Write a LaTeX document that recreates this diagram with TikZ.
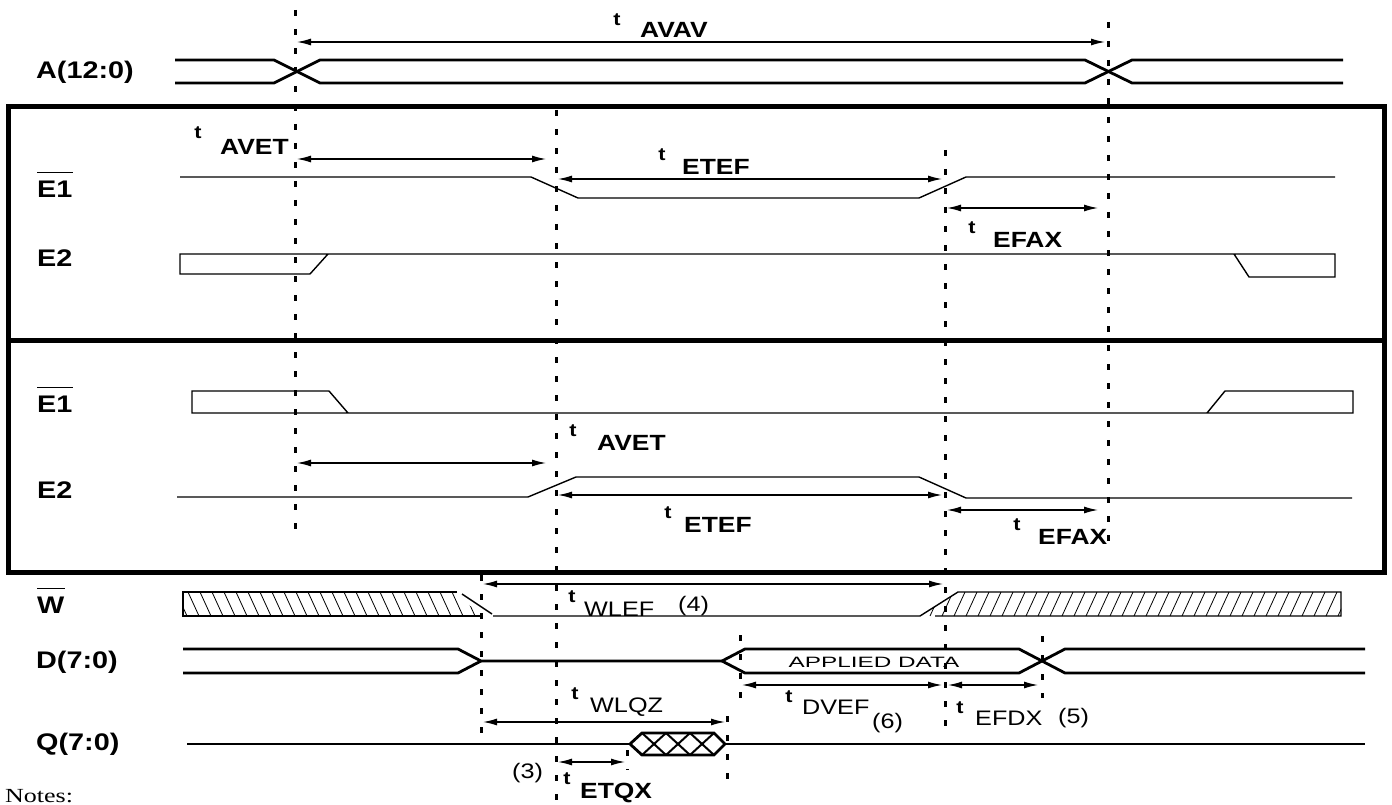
\documentclass[tikz,border=0pt]{standalone}
\usepackage{fontspec}
\usepackage{graphicx}
\usetikzlibrary{arrows.meta}
\newfontfamily\lab[FakeStretch=1.2]{Liberation Sans}
\newfontfamily\notefont{Liberation Serif}
\begin{document}
\begin{tikzpicture}[x=1pt,y=-1pt,
  sig/.style={line width=1.4pt, line join=miter},
  bus/.style={line width=2.8pt, line join=miter},
  tline/.style={line width=3pt, dash pattern=on 6pt off 13pt},
  dim/.style={line width=1.3pt, {Latex[length=14pt,width=7pt]}-{Latex[length=14pt,width=7pt]}},
  lbl/.style={font=\lab\bfseries\fontsize{24}{24}\selectfont, inner sep=0pt, anchor=west},
  sub/.style={font=\lab\bfseries\fontsize{22}{22}\selectfont, inner sep=0pt, anchor=west},
  subr/.style={font=\lab\fontsize{21}{21}\selectfont, inner sep=0pt, anchor=west},
  tt/.style={font=\lab\bfseries\fontsize{18}{18}\selectfont, inner sep=0pt},
  hatch/.style={line width=0.8pt},
  box/.style={line width=5pt}
]
\useasboundingbox (0,0) rectangle (1392,805);

% frames
\draw[box] (8,107) rectangle (1384,572);
\draw[box] (8,340) -- (1384,340);

% signal labels
\node[lbl] (lA) at (36,72) {A(12:0)};
\node[lbl] (lE1a) at (37,189) {E1};
\draw[line width=1.3pt] ([yshift=8pt]lE1a.north west) -- ([yshift=8pt]lE1a.north east);
\node[lbl] (lE2a) at (37,258) {E2};
\node[lbl] (lE1b) at (37,404) {E1};
\draw[line width=1.3pt] ([yshift=8pt]lE1b.north west) -- ([yshift=8pt]lE1b.north east);
\node[lbl] (lE2b) at (37,490) {E2};
\node[lbl] (lW) at (37,605) {W};
\draw[line width=1.3pt] ([yshift=8pt]lW.north west) -- ([yshift=8pt]lW.north east);
\node[lbl] (lD) at (36,662) {D(7:0)};
\node[lbl] (lQ) at (36,744) {Q(7:0)};
\node[font=\notefont\fontsize{20}{20}\selectfont, inner sep=0pt, anchor=west] (notes) at (5,796) {\scalebox{1.3}[1]{Notes:}};

% A bus
\draw[bus] (175,60) -- (274,60) -- (320,83) -- (1085,83) -- (1132,60) -- (1343,60);
\draw[bus] (175,83) -- (274,83) -- (320,60) -- (1085,60) -- (1132,83) -- (1343,83);

% box 1 signals
\draw[sig] (180,177) -- (531,177) -- (578,198) -- (919,198) -- (966,177) -- (1335,177);
\draw[sig] (328,254) -- (310,274) -- (180,274) -- (180,254) -- (1335,254) -- (1335,277) -- (1249,277) -- (1234,254);

% box 2 signals
\draw[sig] (348,413) -- (329,391) -- (192,391) -- (192,413) -- (1353,413) -- (1353,391) -- (1225,391) -- (1207,413);
\draw[sig] (177,497) -- (528,497) -- (576,477) -- (919,477) -- (966,498) -- (1352,498);

% W
\begin{scope}
\clip (183,592) -- (457,592) -- (480,616) -- (183,616) -- cycle;
\foreach \x in {176,188,...,480} \draw[hatch] (\x,592) -- (\x+11,616);
\end{scope}
\draw[sig] (457,592) -- (183,592) -- (183,616) -- (480,616);
\draw[sig] (462,594) -- (492,614);
\draw[sig] (493,616) -- (920,616) -- (958,592) -- (1341,592) -- (1341,616) -- (935,616);
\begin{scope}
\clip (920,616) -- (958,592) -- (1341,592) -- (1341,616) -- cycle;
\foreach \x in {930,942,...,1350} \draw[hatch] (\x,616) -- (\x+11,592);
\end{scope}

% D bus
\draw[bus] (183,649) -- (458,649) -- (481,661) -- (722,661);
\draw[bus] (183,673) -- (458,673) -- (481,661);
\draw[bus] (722,661) -- (745,649) -- (1019,649) -- (1042,661) -- (1065,673) -- (1365,673);
\draw[bus] (722,661) -- (745,673) -- (1019,673) -- (1042,661) -- (1065,649) -- (1365,649);
\node[font=\lab\fontsize{15}{15}\selectfont, inner sep=0pt] (ad) at (874,662) {\scalebox{1.35}[1]{APPLIED DATA}};

% Q bus
\draw[bus] (187,744) -- (630,744);
\draw[bus] (630,744) -- (642,733) -- (714,733) -- (725,744) -- (714,755) -- (642,755) -- cycle;
\draw[line width=2pt] (642,733) -- (666,755) (666,733) -- (690,755) (690,733) -- (714,755)
  (642,755) -- (666,733) (666,755) -- (690,733) (690,755) -- (714,733);
\draw[bus] (725,744) -- (1365,744);

% timing lines
\draw[tline] (295,10) -- (295,535);
\draw[tline] (556,110) -- (556,800);
\draw[tline] (945,150) -- (945,735);
\draw[tline] (1108,22) -- (1108,545);
\draw[tline] (481,575) -- (481,735);
\draw[tline] (740,635) -- (740,708);
\draw[tline] (727,716) -- (727,792);
\draw[tline] (1042,636) -- (1042,698);
\draw[tline] (627,750) -- (627,770);

% dimension arrows
\coordinate (a1) at (297,42);  \coordinate (a2) at (1105,42);
\coordinate (b1) at (297,159); \coordinate (b2) at (546,159);
\coordinate (c1) at (558,179); \coordinate (c2) at (942,179);
\coordinate (d1) at (947,208); \coordinate (d2) at (1098,208);
\coordinate (e1) at (297,463); \coordinate (e2) at (546,463);
\coordinate (f1) at (558,495); \coordinate (f2) at (942,495);
\coordinate (g1) at (947,510); \coordinate (g2) at (1098,510);
\coordinate (h1) at (483,584); \coordinate (h2) at (943,584);
\coordinate (i1) at (742,685); \coordinate (i2) at (942,685);
\coordinate (j1) at (948,685); \coordinate (j2) at (1038,685);
\coordinate (k1) at (483,722); \coordinate (k2) at (725,722);
\coordinate (l1) at (558,762); \coordinate (l2) at (625,762);
\foreach \p in {a,b,c,d,e,f,g,h,i,j,k,l} \draw[dim] (\p1) -- (\p2);

% timing labels
\node[tt] (t1) at (617,20) {t};   \node[sub] (s1) at (640,30) {AVAV};
\node[tt] (t2) at (198,133) {t};  \node[sub] (s2) at (220,147) {AVET};
\node[tt] (t3) at (662,155) {t};  \node[sub] (s3) at (682,167) {ETEF};
\node[tt] (t4) at (972,228) {t};  \node[sub] (s4) at (993,240) {EFAX};
\node[tt] (t5) at (573,431) {t};  \node[sub] (s5) at (597,443) {AVET};
\node[tt] (t6) at (668,513) {t};  \node[sub] (s6) at (684,525) {ETEF};
\node[tt] (t7) at (1017,525) {t}; \node[sub] (s7) at (1038,537) {EFAX};
\node[tt] (t8) at (572,597) {t};  \node[subr] (s8) at (584,609) {WLEF};
\node[subr] (n4) at (678,606) {(4)};
\node[tt] (t9) at (575,694) {t};  \node[subr] (s9) at (590,707) {WLQZ};
\node[tt] (t10) at (789,697) {t}; \node[subr] (s10) at (802,707) {DVEF};
\node[subr] (n6) at (872,723) {(6)};
\node[tt] (t11) at (960,708) {t}; \node[subr] (s11) at (975,718) {EFDX};
\node[subr] (n5) at (1058,718) {(5)};
\node[subr] (n3) at (512,773) {(3)};
\node[tt] (t12) at (567,779) {t}; \node[sub] (s12) at (580,793) {ETQX};
\end{tikzpicture}
\end{document}
